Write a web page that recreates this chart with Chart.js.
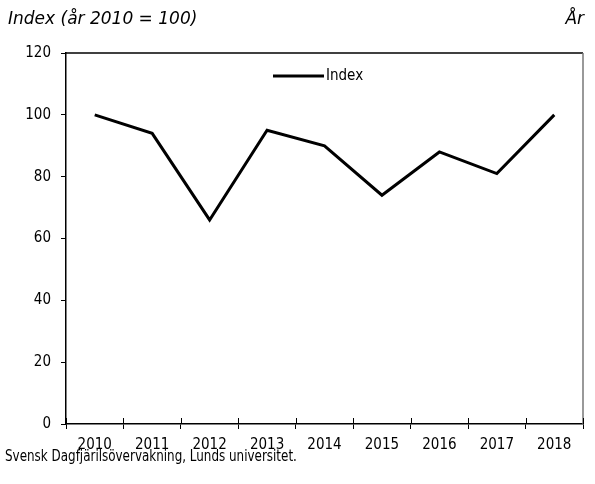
<!DOCTYPE html>
<html>
<head>
<meta charset="utf-8">
<script src="https://cdn.jsdelivr.net/npm/chart.js@4/dist/chart.umd.min.js"></script>
<style>
  html, body { margin: 0; padding: 0; background: #fff; }
  #wrap { position: relative; width: 595px; height: 484px; }
  canvas { position: absolute; left: 0; top: 0; }
  .txt { position: absolute; color: #000; white-space: nowrap; }
  .ital { font-family: 'DejaVu Sans', sans-serif; font-style: italic; font-size: 17px; }
  .narrow { font-family: 'DejaVu Sans Condensed', sans-serif; font-size: 16px; transform-origin: 0 0; transform: scaleX(0.83); }
</style>
</head>
<body>
<div id="wrap">
  <canvas id="chart" width="595" height="484"></canvas>
  <div class="txt ital" style="left:8px; top:8px;">Index (år 2010 = 100)</div>
  <div class="txt ital" style="right:11px; top:8px;">År</div>
  <div class="txt narrow" style="left:5px; top:446px;">Svensk Dagfjärilsövervakning, Lunds universitet.</div>
</div>
<script>
const years = ['2010', '2011', '2012', '2013', '2014', '2015', '2016', '2017', '2018'];
const indexValues = [100, 94, 66, 95, 90, 74, 88, 81, 100];
const yTicks = [0, 20, 40, 60, 80, 100, 120];

const narrowFont = "'DejaVu Sans Condensed', sans-serif";

// frame round the plot area, inner part of x ticks, legend inside the plot
const frame = {
    id: 'frame',
    afterDatasetsDraw(chart) {
        const a = chart.chartArea;
        const ctx = chart.ctx;
        const xs = chart.scales.x;
        ctx.save();
        ctx.lineWidth = 1.5;
        ctx.strokeStyle = '#000';
        ctx.beginPath();
        ctx.moveTo(a.left, a.top);
        ctx.lineTo(a.right, a.top);
        ctx.stroke();
        ctx.strokeStyle = '#777';
        ctx.beginPath();
        ctx.moveTo(a.right, a.top);
        ctx.lineTo(a.right, a.bottom);
        ctx.stroke();

        ctx.strokeStyle = '#000';
        ctx.lineWidth = 1;
        for (let i = 0; i <= years.length; i++) {
            const x = Math.round(xs.getPixelForValue(i - 0.5)) + 0.5;
            ctx.beginPath();
            ctx.moveTo(x, a.bottom - 6);
            ctx.lineTo(x, a.bottom);
            ctx.stroke();
        }

        // legend
        const ds = chart.data.datasets[0];
        const lx = 273, ly = 76;
        ctx.strokeStyle = ds.borderColor;
        ctx.lineWidth = ds.borderWidth;
        ctx.beginPath();
        ctx.moveTo(lx, ly);
        ctx.lineTo(lx + 51, ly);
        ctx.stroke();
        ctx.fillStyle = '#000';
        ctx.font = '15px ' + narrowFont;
        ctx.textBaseline = 'middle';
        ctx.fillText(ds.label, lx + 53, ly);
        ctx.restore();
    }
};

new Chart(document.getElementById('chart'), {
    type: 'line',
    data: {
        labels: years,
        datasets: [{
            label: 'Index',
            data: indexValues,
            borderColor: '#000',
            backgroundColor: '#000',
            borderWidth: 3,
            pointRadius: 0,
            tension: 0
        }]
    },
    options: {
        responsive: false,
        animation: false,
        layout: { padding: { left: 0, right: 12, top: 53, bottom: 30 } },
        plugins: {
            legend: { display: false },
            tooltip: { enabled: false }
        },
        scales: {
            x: {
                offset: true,
                grid: { offset: true, drawOnChartArea: false, tickLength: 5, color: '#000', lineWidth: 1 },
                border: { color: '#000', width: 1.5 },
                ticks: { color: '#000', padding: 7, font: { family: narrowFont, size: 15 } },
                afterFit: s => { s.height = 30; }
            },
            y: {
                min: 0,
                max: 120,
                afterBuildTicks: s => { s.ticks = yTicks.map(v => ({ value: v })); },
                grid: { drawOnChartArea: false, tickLength: 5, color: '#000', lineWidth: 1 },
                border: { color: '#000', width: 1.5 },
                ticks: { color: '#000', padding: 10, font: { family: narrowFont, size: 15 } },
                afterFit: s => { s.width = 66; }
            }
        }
    },
    plugins: [frame]
});
</script>
</body>
</html>
